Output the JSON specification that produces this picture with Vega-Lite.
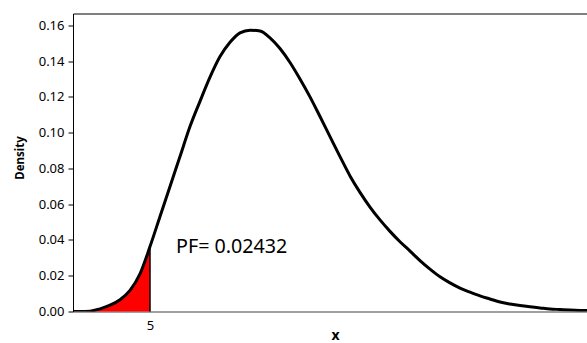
{
  "$schema": "https://vega.github.io/schema/vega-lite/v6.json",
  "width": 514,
  "height": 298,
  "autosize": {"type": "none"},
  "padding": {"left": 73, "top": 13.5, "right": 0, "bottom": 31.5},
  "background": "white",
  "config": {"view": {"stroke": null}, "font": "Noto Sans"},
  "data": {
    "values": [
      {"x": 2.345, "Density": 0},
      {"x": 2.586, "Density": 0},
      {"x": 2.931, "Density": 0.0002},
      {"x": 3.276, "Density": 0.0015},
      {"x": 3.621, "Density": 0.0035},
      {"x": 3.966, "Density": 0.0066},
      {"x": 4.310, "Density": 0.0118},
      {"x": 4.655, "Density": 0.0210},
      {"x": 5.000, "Density": 0.0363},
      {"x": 5.345, "Density": 0.0531},
      {"x": 5.690, "Density": 0.0699},
      {"x": 6.034, "Density": 0.0866},
      {"x": 6.379, "Density": 0.1034},
      {"x": 6.724, "Density": 0.1175},
      {"x": 7.069, "Density": 0.1310},
      {"x": 7.414, "Density": 0.1425},
      {"x": 7.759, "Density": 0.1505},
      {"x": 8.103, "Density": 0.1558},
      {"x": 8.448, "Density": 0.1573},
      {"x": 8.793, "Density": 0.1568},
      {"x": 9.138, "Density": 0.1530},
      {"x": 9.483, "Density": 0.1470},
      {"x": 9.828, "Density": 0.1392},
      {"x": 10.172, "Density": 0.1300},
      {"x": 10.517, "Density": 0.1200},
      {"x": 10.862, "Density": 0.1090},
      {"x": 11.207, "Density": 0.0978},
      {"x": 11.552, "Density": 0.0866},
      {"x": 11.897, "Density": 0.0758},
      {"x": 12.241, "Density": 0.0666},
      {"x": 12.586, "Density": 0.0584},
      {"x": 12.931, "Density": 0.0512},
      {"x": 13.276, "Density": 0.0448},
      {"x": 13.621, "Density": 0.0390},
      {"x": 13.966, "Density": 0.0338},
      {"x": 14.310, "Density": 0.0285},
      {"x": 14.655, "Density": 0.0237},
      {"x": 15.000, "Density": 0.0194},
      {"x": 15.345, "Density": 0.0160},
      {"x": 15.690, "Density": 0.0131},
      {"x": 16.034, "Density": 0.0108},
      {"x": 16.379, "Density": 0.0087},
      {"x": 16.724, "Density": 0.0070},
      {"x": 17.069, "Density": 0.0053},
      {"x": 17.414, "Density": 0.0042},
      {"x": 17.759, "Density": 0.0033},
      {"x": 18.103, "Density": 0.0026},
      {"x": 18.448, "Density": 0.0020},
      {"x": 18.793, "Density": 0.0014},
      {"x": 19.138, "Density": 0.0011},
      {"x": 19.483, "Density": 0.0008},
      {"x": 19.828, "Density": 0.0006},
      {"x": 20.069, "Density": 0.0005}
    ]
  },
  "layer": [
    {
      "transform": [{"filter": "datum.x <= 5"}],
      "mark": {"type": "area", "color": "#ff0000", "opacity": 1, "interpolate": "monotone"},
      "encoding": {
        "x": {
          "field": "x", "type": "quantitative",
          "scale": {"domain": [2.345, 20.069], "nice": false, "zero": false},
          "axis": {
            "orient": "bottom", "values": [5], "grid": false, "ticks": false,
            "labelPadding": 8, "labelFontSize": 13, "labelColor": "#000000",
            "labelFont": "Noto Sans",
            "domainColor": "#808080", "domainWidth": 1.5,
            "title": "x", "titleFontSize": 14, "titleFontWeight": "bold", "titleColor": "#000000",
            "titleX": 262, "titleY": 28, "titleBaseline": "alphabetic", "titleAlign": "center"
          }
        },
        "y": {
          "field": "Density", "type": "quantitative",
          "scale": {"domain": [0, 0.1666], "nice": false},
          "axis": {
            "values": [0, 0.02, 0.04, 0.06, 0.08, 0.1, 0.12, 0.14, 0.16],
            "format": ".2f", "grid": false, "tickSize": 5, "tickColor": "#000000",
            "labelPadding": 4, "labelFontSize": 13, "labelColor": "#000000",
            "labelOverlap": false,
            "domainColor": "#000000",
            "title": "Density", "titleFontSize": 11.5, "titleFontWeight": "bold", "titleColor": "#000000",
            "titleX": -50, "titleY": 144, "titleAlign": "center", "titleBaseline": "alphabetic", "titleAngle": -90
          }
        }
      }
    },
    {
      "mark": {"type": "line", "color": "#000000", "strokeWidth": 3, "opacity": 0},
      "encoding": {
        "x": {"field": "x", "type": "quantitative",
          "axis": {"orient": "top", "labels": false, "ticks": false, "title": null, "grid": false, "domainColor": "#000000"}},
        "y": {
          "field": "Density", "type": "quantitative",
          "axis": {
            "values": [0, 0.02, 0.04, 0.06, 0.08, 0.1, 0.12, 0.14, 0.16],
            "format": ".2f", "grid": false, "tickSize": 5, "tickColor": "#000000",
            "labelPadding": 4, "labelFontSize": 13, "labelColor": "#000000",
            "labelOverlap": false,
            "domainColor": "#000000",
            "title": "Density", "titleFontSize": 11.5, "titleFontWeight": "bold", "titleColor": "#000000",
            "titleX": -50, "titleY": 144, "titleAlign": "center", "titleBaseline": "alphabetic", "titleAngle": -90
          }
        }
      }
    },
    {
      "transform": [{"filter": "datum.x == 5"}],
      "mark": {"type": "rule", "color": "#000000", "strokeWidth": 1.5},
      "encoding": {
        "x": {"field": "x", "type": "quantitative", "axis": null},
        "y": {
          "field": "Density", "type": "quantitative",
          "axis": {
            "values": [0, 0.02, 0.04, 0.06, 0.08, 0.1, 0.12, 0.14, 0.16],
            "format": ".2f", "grid": false, "tickSize": 5, "tickColor": "#000000",
            "labelPadding": 4, "labelFontSize": 13, "labelColor": "#000000",
            "labelOverlap": false,
            "domainColor": "#000000",
            "title": "Density", "titleFontSize": 11.5, "titleFontWeight": "bold", "titleColor": "#000000",
            "titleX": -50, "titleY": 144, "titleAlign": "center", "titleBaseline": "alphabetic", "titleAngle": -90
          }
        },
        "y2": {"datum": 0}
      }
    },
    {
      "mark": {"type": "line", "color": "#000000", "strokeWidth": 3, "clip": true, "interpolate": "monotone"},
      "encoding": {
        "x": {"field": "x", "type": "quantitative", "axis": null},
        "y": {
          "field": "Density", "type": "quantitative",
          "axis": {
            "values": [0, 0.02, 0.04, 0.06, 0.08, 0.1, 0.12, 0.14, 0.16],
            "format": ".2f", "grid": false, "tickSize": 5, "tickColor": "#000000",
            "labelPadding": 4, "labelFontSize": 13, "labelColor": "#000000",
            "labelOverlap": false,
            "domainColor": "#000000",
            "title": "Density", "titleFontSize": 11.5, "titleFontWeight": "bold", "titleColor": "#000000",
            "titleX": -50, "titleY": 144, "titleAlign": "center", "titleBaseline": "alphabetic", "titleAngle": -90
          }
        }
      }
    },
    {
      "data": {"values": [{"label": "PF= 0.02432"}]},
      "mark": {"type": "text", "font": "Noto Sans", "fontSize": 19.7, "align": "left", "baseline": "alphabetic", "color": "#000000"},
      "encoding": {
        "text": {"field": "label"},
        "x": {"datum": 5.897, "type": "quantitative", "axis": null},
        "y": {
          "datum": 0.03264, "type": "quantitative",
          "axis": {
            "values": [0, 0.02, 0.04, 0.06, 0.08, 0.1, 0.12, 0.14, 0.16],
            "format": ".2f", "grid": false, "tickSize": 5, "tickColor": "#000000",
            "labelPadding": 4, "labelFontSize": 13, "labelColor": "#000000",
            "labelOverlap": false,
            "domainColor": "#000000",
            "title": "Density", "titleFontSize": 11.5, "titleFontWeight": "bold", "titleColor": "#000000",
            "titleX": -50, "titleY": 144, "titleAlign": "center", "titleBaseline": "alphabetic", "titleAngle": -90
          }
        }
      }
    }
  ],
  "resolve": {"axis": {"x": "independent"}}
}
